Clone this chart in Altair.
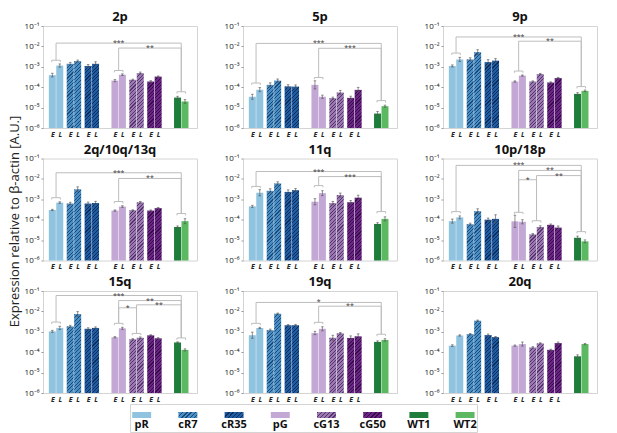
import math
import altair as alt

# ---------------- data ----------------
PANELS = ["2p", "5p", "9p", "2q/10q/13q", "11q", "10p/18p", "15q", "19q", "20q"]
GROUPS = ["pR", "cR7", "cR35", "pG", "cG13", "cG50", "WT"]
LEGEND = ["pR", "cR7", "cR35", "pG", "cG13", "cG50", "WT1", "WT2"]
PHASES = ["E", "L"]
Y_TICKS = [1e-6, 1e-5, 1e-4, 1e-3, 1e-2, 1e-1]

# order: pR E,L | cR7 E,L | cR35 E,L | pG E,L | cG13 E,L | cG50 E,L | WT1 | WT2
V_2P = [3.9e-4, 1.15e-3, 1.4e-3, 1.9e-3, 1.1e-3, 1.4e-3, 2.1e-4, 4.1e-4, 2.3e-4, 4.9e-4, 1.9e-4, 3.3e-4, 3.1e-5, 2.0e-5]
V_5P = [3.4e-5, 7.6e-5, 1.3e-4, 2.1e-4, 1.1e-4, 1.07e-4, 1.3e-4, 3.4e-5, 2.9e-5, 5.5e-5, 3.0e-5, 7.4e-5, 5.1e-6, 1.17e-5]
V_9P = [1.1e-3, 2.3e-3, 2.3e-3, 5.2e-3, 1.7e-3, 2.0e-3, 1.9e-4, 3.7e-4, 1.9e-4, 4.4e-4, 1.7e-4, 2.8e-4, 4.7e-5, 6.6e-5]
V_2Q = [3.0e-4, 6.9e-4, 6.2e-4, 3.1e-3, 6.2e-4, 6.6e-4, 2.8e-4, 4.4e-4, 2.9e-4, 7.1e-4, 2.8e-4, 3.7e-4, 4.4e-5, 8.5e-5]
V_11Q = [4.5e-4, 2.1e-3, 2.6e-3, 6.0e-3, 2.3e-3, 2.8e-3, 7.6e-4, 2.0e-3, 6.5e-4, 1.6e-3, 7.2e-4, 1.2e-3, 6.2e-5, 1.1e-4]
V_10P = [8.5e-5, 1.3e-4, 6.0e-5, 2.6e-4, 1.0e-4, 1.1e-4, 8.3e-5, 7.9e-5, 1.9e-5, 4.4e-5, 5.6e-5, 4.1e-5, 1.3e-5, 8.7e-6]
V_15Q = [1.05e-3, 1.55e-3, 1.85e-3, 7.4e-3, 1.4e-3, 1.55e-3, 5.4e-4, 1.48e-3, 4.3e-4, 5.1e-4, 6.7e-4, 4.8e-4, 3.0e-4, 1.3e-4]
V_19Q = [6.8e-4, 1.55e-3, 1.2e-3, 7.7e-3, 2.1e-3, 2.1e-3, 8.7e-4, 1.4e-3, 5.1e-4, 8.4e-4, 5.0e-4, 6.0e-4, 3.2e-4, 4.0e-4]
V_20Q = [2.1e-4, 6.6e-4, 7.7e-4, 3.5e-3, 6.9e-4, 5.5e-4, 2.1e-4, 2.5e-4, 1.7e-4, 2.7e-4, 1.3e-4, 2.8e-4, 6.3e-5, 2.5e-4]

# error half-widths, in decades
E_2P = [0.09, 0.08, 0.07, 0.05, 0.07, 0.10, 0.05, 0.04, 0.03, 0.05, 0.04, 0.03, 0.06, 0.09]
E_5P = [0.12, 0.10, 0.10, 0.08, 0.08, 0.08, 0.20, 0.08, 0.05, 0.10, 0.08, 0.12, 0.10, 0.05]
E_9P = [0.05, 0.10, 0.08, 0.12, 0.12, 0.10, 0.03, 0.03, 0.03, 0.03, 0.03, 0.03, 0.06, 0.04]
E_2Q = [0.03, 0.04, 0.06, 0.12, 0.07, 0.08, 0.03, 0.04, 0.02, 0.04, 0.03, 0.03, 0.05, 0.12]
E_11Q = [0.05, 0.15, 0.10, 0.08, 0.10, 0.08, 0.15, 0.12, 0.08, 0.10, 0.08, 0.12, 0.06, 0.10]
E_10P = [0.10, 0.07, 0.05, 0.12, 0.08, 0.20, 0.30, 0.10, 0.04, 0.06, 0.04, 0.08, 0.08, 0.07]
E_15Q = [0.05, 0.08, 0.05, 0.12, 0.05, 0.05, 0.03, 0.05, 0.03, 0.04, 0.03, 0.03, 0.03, 0.05]
E_19Q = [0.15, 0.03, 0.05, 0.03, 0.03, 0.04, 0.08, 0.10, 0.12, 0.04, 0.10, 0.12, 0.05, 0.06]
E_20Q = [0.04, 0.03, 0.03, 0.03, 0.05, 0.03, 0.03, 0.10, 0.04, 0.03, 0.03, 0.05, 0.07, 0.03]

# bracket heights over groups and comparisons (groupA, groupB, top, stars)
B_2P = {"pR": 2.1e-3, "pG": 6.6e-4, "WT": 6.0e-5}
C_2P = [("pR", "WT", 1.45e-2, "***"), ("pG", "WT", 8.3e-3, "**")]
B_5P = {"pR": 1.6e-4, "pG": 3.0e-4, "WT": 2.2e-5}
C_5P = [("pR", "WT", 1.4e-2, "***"), ("pG", "WT", 8.1e-3, "***")]
B_9P = {"pR": 4.7e-3, "pG": 6.2e-4, "WT": 1.07e-4}
C_9P = [("pR", "WT", 2.9e-2, "***"), ("pG", "WT", 1.8e-2, "**")]
B_2Q = {"pR": 1.2e-3, "pG": 7.8e-4, "WT": 2.0e-4}
C_2Q = [("pR", "WT", 2.0e-2, "***"), ("pG", "WT", 1.05e-2, "**")]
B_11Q = {"pR": 4.3e-3, "pG": 4.7e-3, "WT": 2.5e-4}
C_11Q = [("pR", "WT", 2.3e-2, "***"), ("pG", "WT", 1.3e-2, "***")]
B_10P = {"pR": 2.5e-4, "pG": 2.3e-4, "cG13": 8.9e-5, "WT": 2.6e-5}
C_10P = [("pR", "WT", 4.6e-2, "***"), ("pG", "WT", 2.6e-2, "**"),
         ("cG13", "WT", 1.45e-2, "**"), ("pG", "cG13", 9.1e-3, "*")]
B_15Q = {"pR": 3.0e-3, "pG": 2.6e-3, "cG13": 8.3e-4, "WT": 5.0e-4}
C_15Q = [("pR", "WT", 6.0e-2, "***"), ("pG", "WT", 3.4e-2, "**"),
         ("cG13", "WT", 2.1e-2, "**"), ("pG", "cG13", 1.5e-2, "*")]
B_19Q = {"pR": 2.6e-3, "pG": 2.9e-3, "WT": 7.6e-4}
C_19Q = [("pR", "WT", 2.75e-2, "*"), ("pG", "WT", 1.8e-2, "**")]
B_20Q = {}
C_20Q = []

VALUES = [V_2P, V_5P, V_9P, V_2Q, V_11Q, V_10P, V_15Q, V_19Q, V_20Q]
ERRORS = [E_2P, E_5P, E_9P, E_2Q, E_11Q, E_10P, E_15Q, E_19Q, E_20Q]
BRACKETS = [B_2P, B_5P, B_9P, B_2Q, B_11Q, B_10P, B_15Q, B_19Q, B_20Q]
COMPARE = [C_2P, C_5P, C_9P, C_2Q, C_11Q, C_10P, C_15Q, C_19Q, C_20Q]

# ---------------- styles / layout ----------------
COLORS = {"pR": "#8fc3e0", "cR7": "#4a8fc6", "cR35": "#1f5ca2", "pG": "#c3a7d4",
          "cG13": "#9a78b2", "cG50": "#6a2585", "WT1": "#1f7d3b", "WT2": "#5db862"}
HATCH = {"cR7": "#1c4a78", "cR35": "#0c2d5c", "cG13": "#553368", "cG50": "#360b49"}
CENTER = {"pR": 0.0, "cR7": 1.0, "cR35": 2.0, "pG": 3.5, "cG13": 4.5, "cG50": 5.5, "WT": 7.0}
OFF = 0.208
PW, PH = 154, 102
BAR_W = 7
X_DOM = [-0.45, 7.6]
FONT = "Open Sans"
GRID_COL = "#bdbdbd"
YTITLE = "Expression relative to \u03b2-actin [A.U.]"


def hatch_fill(name, w, h, period=3.6, line=1.1):
    base = COLORS[name]
    if name not in HATCH:
        return base
    dark = HATCH[name]
    h = max(h, 1.0)
    d = w * w + h * h
    a = w * (w + h) / d
    b = h * (w + h) / d
    p = period / (w + h)
    lf = line / (w + h)
    stops = []
    t = 0.0
    while t < 1.0:
        t1 = min(t + lf, 1.0)
        t2 = min(t + p, 1.0)
        stops += [{"offset": round(t, 4), "color": dark},
                  {"offset": round(t1, 4), "color": dark},
                  {"offset": round(t1, 4), "color": base},
                  {"offset": round(t2, 4), "color": base}]
        t += p
    return {"gradient": "linear", "x1": 0, "y1": 0, "x2": round(a, 4), "y2": round(b, 4),
            "stops": stops}


def slots():
    out = []
    for g in GROUPS:
        if g == "WT":
            out.append(("WT", "WT1", CENTER[g] - OFF))
            out.append(("WT", "WT2", CENTER[g] + OFF))
        else:
            out.append((g, g, CENTER[g] - OFF))
            out.append((g, g, CENTER[g] + OFF))
    return out


X_LABEL_POS = [CENTER[g] + s * OFF for g in GROUPS if g != "WT" for s in (-1, 1)]

ylabel_expr = ("'10' + ['\u207b\u2076','\u207b\u2075','\u207b\u2074','\u207b\u00b3',"
               "'\u207b\u00b2','\u207b\u00b9'][round(log(datum.value)/LN10)+6]")
el_expr = "datum.value < round(datum.value*2)/2 ? 'E' : 'L'"

xscale = alt.Scale(domain=X_DOM, nice=False, zero=False)
yscale = alt.Scale(type="log", domain=[1e-6, 1e-1], nice=False)

Y_AXIS = alt.Axis(values=Y_TICKS, labelExpr=ylabel_expr, domain=False, grid=False,
                  tickSize=2, tickColor="#999", labelFontSize=8, labelColor="#222",
                  labelPadding=2, labelOverlap=False, title=None)
X_AXIS = alt.Axis(values=X_LABEL_POS, labelExpr=el_expr, ticks=False, domain=False,
                  grid=False, labelFontSize=7, labelFontStyle="italic",
                  labelFontWeight="bold", labelColor="#222", labelPadding=2,
                  labelOverlap=False, labelFlush=False, title=None)


def panel(k):
    vals, errs = VALUES[k], ERRORS[k]
    recs = []
    for (g, name, x), v, e in zip(slots(), vals, errs):
        hpx = (math.log10(v) + 6) / 5 * PH
        recs.append({"x": x, "v": v, "lo": v / 10 ** e, "hi": v * 10 ** e,
                     "fill": hatch_fill(name, BAR_W, hpx)})
    segs, stars = [], []
    for g, lev in BRACKETS[k].items():
        c = CENTER[g]
        tick = lev / 10 ** 0.09
        segs.append({"x1": c - 0.24, "x2": c + 0.24, "y1": lev, "y2": lev})
        segs.append({"x1": c - 0.24, "x2": c - 0.24, "y1": lev, "y2": tick})
        segs.append({"x1": c + 0.24, "x2": c + 0.24, "y1": lev, "y2": tick})
    for ga, gb, top, lab in COMPARE[k]:
        ca, cb = CENTER[ga], CENTER[gb]
        segs.append({"x1": ca, "x2": ca, "y1": BRACKETS[k][ga], "y2": top})
        segs.append({"x1": ca, "x2": cb, "y1": top, "y2": top})
        segs.append({"x1": cb, "x2": cb, "y1": top, "y2": BRACKETS[k][gb]})
        stars.append({"x": (ca + cb) / 2, "y": top, "t": lab})

    base = alt.Chart(alt.Data(values=recs))
    bars = base.mark_bar(size=BAR_W).encode(
        x=alt.X("x:Q", scale=xscale, axis=X_AXIS),
        y=alt.Y("v:Q", scale=yscale, axis=Y_AXIS),
        y2=alt.datum(1e-6),
        fill=alt.Fill("fill:N", scale=None),
    )
    err = base.mark_rule(color="#555", strokeWidth=0.8, opacity=0.8).encode(
        x=alt.X("x:Q", scale=xscale, axis=X_AXIS),
        y=alt.Y("lo:Q", scale=yscale, axis=Y_AXIS), y2="hi:Q")
    caps = base.transform_fold(["lo", "hi"], as_=["which", "yy"]).transform_calculate(
        xa="datum.x - 0.07", xb="datum.x + 0.07").mark_rule(
        color="#555", strokeWidth=0.8, opacity=0.8).encode(
        x=alt.X("xa:Q", scale=xscale, axis=X_AXIS), x2="xb:Q",
        y=alt.Y("yy:Q", scale=yscale, axis=Y_AXIS))
    layers = [bars, err, caps]
    if segs:
        layers.append(alt.Chart(alt.Data(values=segs)).mark_rule(
            color=GRID_COL, strokeWidth=1).encode(
            x=alt.X("x1:Q", scale=xscale, axis=X_AXIS), x2="x2:Q",
            y=alt.Y("y1:Q", scale=yscale, axis=Y_AXIS), y2="y2:Q"))
        layers.append(alt.Chart(alt.Data(values=stars)).mark_text(
            fontSize=7, color="#333", baseline="alphabetic", dy=2, font=FONT).encode(
            x=alt.X("x:Q", scale=xscale, axis=X_AXIS),
            y=alt.Y("y:Q", scale=yscale, axis=Y_AXIS), text="t:N"))
    return alt.layer(*layers).properties(
        width=PW, height=PH,
        title=alt.TitleParams(PANELS[k], fontSize=13, fontWeight="bold", offset=-2,
                              color="#111", font=FONT))


grid = alt.concat(*[panel(k) for k in range(9)], columns=3,
                  spacing={"row": 4.5, "column": 25})

# ---------------- legend ----------------
LW, LH = 19, 6
leg_recs = [{"i": i, "name": n, "fill": hatch_fill(n, LW, LH, period=4.2, line=1.3)}
            for i, n in enumerate(LEGEND)]
lscale = alt.Scale(domain=[-0.253, 7.258], nice=False, zero=False)
lbase = alt.Chart(alt.Data(values=leg_recs))
sw = lbase.transform_calculate(xa="datum.i - 0.205", xb="datum.i + 0.205").mark_rect().encode(
    x=alt.X("xa:Q", scale=lscale, axis=None), x2="xb:Q",
    y=alt.value(8), y2=alt.value(14),
    fill=alt.Fill("fill:N", scale=None))
lab = lbase.mark_text(fontSize=11, fontWeight="bold", color="#111", baseline="middle",
                      font=FONT).encode(
    x=alt.X("i:Q", scale=lscale, axis=None), y=alt.value(20.5), text="name:N")
legend = alt.layer(sw, lab).properties(width=347, height=28)
spacer = alt.Chart(alt.Data(values=[{"a": 0}])).mark_point(opacity=0).properties(
    width=85, height=28, view=alt.ViewBackground(stroke="transparent"))
legrow = alt.hconcat(spacer, legend, spacing=0)

chart = alt.vconcat(grid, legrow, spacing=0).properties(
    padding={"left": 0, "top": 2, "right": 0, "bottom": 0},
    title=alt.TitleParams(YTITLE, orient="left", anchor="middle", fontSize=13,
                          fontWeight="normal", color="#222", offset=2, font=FONT),
).configure(font=FONT).configure_view(stroke="#d4d4d4")

chart.save("out.html", embed_options={"renderer": "svg", "actions": False})
